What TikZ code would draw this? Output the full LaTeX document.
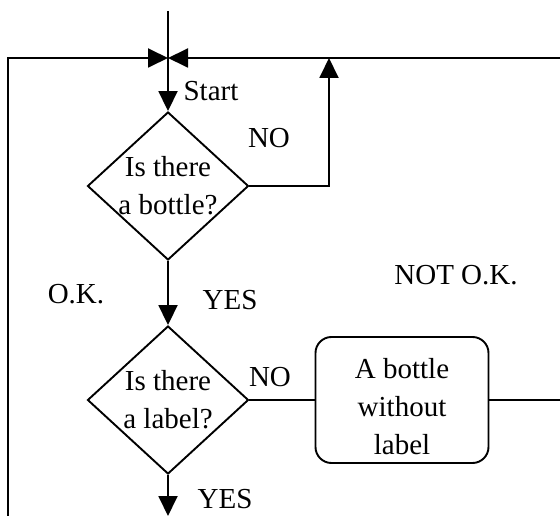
\documentclass[tikz,border=0pt]{standalone}
\usepackage{fontspec}
\setmainfont{Liberation Serif}
\usetikzlibrary{shapes.geometric,arrows.meta}
\begin{document}
\begin{tikzpicture}[x=1pt,y=-1pt,
  line width=1.9pt,
  every node/.style={font=\fontsize{29}{38}\selectfont, inner sep=0pt},
  dia/.style={diamond, draw, minimum width=161pt, minimum height=148pt, inner sep=0pt},
  procbox/.style={draw, rounded corners=16pt, minimum width=173pt, minimum height=126pt},
  arr/.style={-{Triangle[length=20pt,width=19pt]}},
  txt/.style={align=center}
]
\useasboundingbox (0,0) rectangle (560,516);
% coordinates
\coordinate (top) at (168,11);
\coordinate (j) at (168,58);
\coordinate (tl) at (8,58);
\coordinate (bl) at (8,516);
\coordinate (tr) at (560,58);
\coordinate (c1) at (329,58);
\coordinate (rr) at (560,400);
\coordinate (bot) at (168,516);
% nodes
\node[dia, label={[txt]center:Is there\\a bottle?}] (d1) at (168,186) {};
\node[dia, label={[txt]center:Is there\\a label?}] (d2) at (168,400) {};
\node[procbox, label={[txt,yshift=-7pt]center:A bottle\\without\\label}] (b) at (402,400) {};
% labels
\node (start) at (211,91) {Start};
\node (no1) at (269,138) {NO};
\node (yes1) at (230,300) {YES};
\node (ok) at (76,294) {O.K.};
\node (nok) at (456,275) {NOT O.K.};
\node (no2) at (270,377) {NO};
\node (yes2) at (225,499) {YES};
% connectors
\draw[arr] (bl) -- (tl) -- (j);
\draw[arr] (tr) -- (j);
\draw[arr] (top) -- (d1.north);
\draw[arr] (d1.east) -| (c1);
\draw[arr] (d1.south) -- (d2.north);
\draw (d2.east) -- (b.west);
\draw (b.east) -- (rr);
\draw[arr] (d2.south) -- (bot);
\end{tikzpicture}
\end{document}
